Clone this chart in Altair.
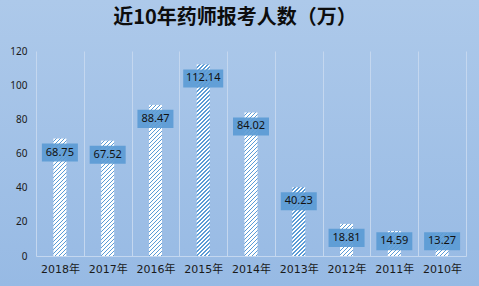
import altair as alt
import pandas as pd

# ---- data ----
years = ["2018年", "2017年", "2016年", "2015年", "2014年", "2013年", "2012年", "2011年", "2010年"]
values = [68.75, 67.52, 88.47, 112.14, 84.02, 40.23, 18.81, 14.59, 13.27]
y_ticks = [0, 20, 40, 60, 80, 100, 120]
title_text = "近10年药师报考人数（万）"

df = pd.DataFrame({"year": years, "value": values})

# ---- layout / style constants ----
PLOT_W, PLOT_H = 430, 205
Y_MAX = 120
PX = PLOT_H / Y_MAX            # pixels per unit
BAR_W = 13
PITCH = 4                      # hatch pitch (px, along x+y)
SEG = 12                       # segment height (px), multiple of PITCH
EXT = 1                        # overlap to hide seams (px)
D = 28                         # x+y length mapped to gradient t in [0,1]
NPER = D // PITCH
WHITE_FRAC = 0.55
BLUE = "#5b9bd5"

stops = []
for k in range(NPER):
    a = k / NPER
    m = (k + WHITE_FRAC) / NPER
    b = (k + 1) / NPER
    stops += [(a, "#ffffff"), (m, "#ffffff"), (m, BLUE), (b, BLUE)]
stops_expr = "[" + ",".join("{offset: %.5f, color: '%s'}" % (o, c) for o, c in stops) + "]"

STEP_U = SEG / PX
EXT_U = EXT / PX
W2 = BAR_W * BAR_W
grad_expr = (
    "{gradient: 'linear', x1: 0, y1: 0, "
    f"x2: {D * BAR_W}/({W2}+datum.h*datum.h), "
    f"y2: {D}*datum.h/({W2}+datum.h*datum.h), "
    f"stops: {stops_expr}}}"
)

x_enc = alt.X(
    "year:N",
    sort=years,
    scale=alt.Scale(paddingInner=0, paddingOuter=0),
    axis=alt.Axis(
        title=None, labelAngle=0, ticks=False, grid=True, tickBand="extent",
        gridColor="#c4d7ef", domainColor="#c4d7ef", labelPadding=7,
        labelFont="DejaVu Sans, Noto Sans CJK SC", labelFontSize=11,
        labelColor="#1a1a1a", zindex=1,
    ),
)
y_scale = alt.Scale(domain=[0, Y_MAX], nice=False, zero=True)


def y_enc(field):
    return alt.Y(
        field, scale=y_scale,
        axis=alt.Axis(
            title=None, values=y_ticks, ticks=False, domain=False, grid=False,
            labelPadding=9, labelFont="Noto Sans", labelFontSize=10,
            labelColor="#1a1a1a", zindex=1,
        ),
    )


# background gradient panel
bg = alt.Chart(alt.Data(values=[{"k": 1}])).mark_rect(
    fill=alt.LinearGradient(
        gradient="linear", x1=0, y1=0, x2=0, y2=1,
        stops=[alt.GradientStop(color="#adc9ea", offset=0),
               alt.GradientStop(color="#97bae4", offset=1)],
    )
).encode(
    x=alt.value(-36), x2=alt.value(PLOT_W + 13),
    y=alt.value(-51), y2=alt.value(PLOT_H + 30),
)

# hatched bars, built from square-ish segments so the stripes keep 45 degrees
bars = alt.Chart(df).transform_calculate(
    seq=f"sequence(0, datum.value, {STEP_U})"
).transform_flatten(["seq"]).transform_calculate(
    top="datum.value - datum.seq",
    bot=f"max(datum.value - datum.seq - {STEP_U} - {EXT_U}, 0)",
).transform_calculate(
    h=f"(datum.top - datum.bot)*{PX}"
).transform_calculate(
    grad=grad_expr
).mark_bar(width=BAR_W).encode(
    x=x_enc,
    y=y_enc("top:Q"),
    y2="bot:Q",
    fill=alt.Fill("grad:N", scale=None, legend=None),
)

label_base = alt.Chart(df).transform_calculate(
    ly="max(datum.value - 8.2, 8.7)",
    label="format(datum.value, '.2f')",
).transform_calculate(
    ly1="datum.ly - 5.27",
    ly2="datum.ly + 5.27",
    bw="length(datum.label)*4 + 16",
)

boxes = label_base.mark_bar(color=BLUE, opacity=0.92).encode(
    x=x_enc,
    y=y_enc("ly1:Q"),
    y2="ly2:Q",
    size=alt.Size("bw:Q", scale=None, legend=None),
)

texts = label_base.mark_text(
    font="Noto Sans", fontSize=11, color="#111111", baseline="middle", align="center"
).encode(
    x=x_enc,
    y=y_enc("ly:Q"),
    text="label:N",
)

title = alt.Chart(alt.Data(values=[{"t": title_text}])).mark_text(
    font="Noto Sans CJK SC", fontSize=20, fontWeight="bold", color="#0d0d0d",
    align="center", baseline="middle",
).encode(
    x=alt.value(199), y=alt.value(-33), text="t:N",
)

chart = alt.layer(bg, bars, boxes, texts, title).properties(
    width=PLOT_W,
    height=PLOT_H,
    padding={"left": 36, "top": 51, "right": 13, "bottom": 30},
    autosize=alt.AutoSizeParams(type="none"),
    background="#a3c2e7",
).configure_view(stroke=None)

chart.save("out.html", embed_options={"renderer": "svg", "actions": False})
